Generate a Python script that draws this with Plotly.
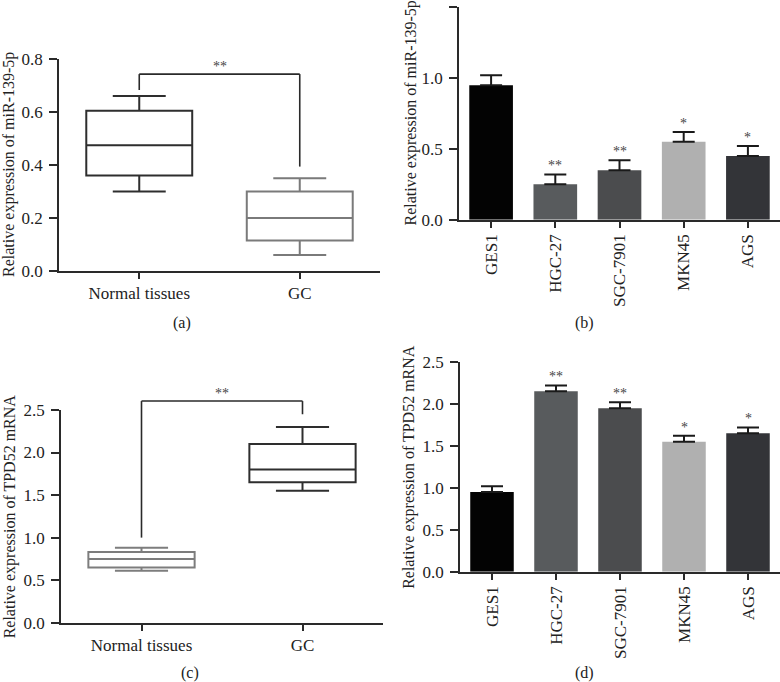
import plotly.graph_objects as go

# ---------------- data ----------------
box_groups = ["Normal tissues", "GC"]
# panel (a): miR-139-5p in tissues
a_lower = [0.30, 0.06]
a_q1 = [0.36, 0.115]
a_median = [0.475, 0.20]
a_q3 = [0.605, 0.30]
a_upper = [0.66, 0.35]
a_bracket = [0.683, 0.743, 0.394]   # left leg bottom, bar height, right leg bottom
a_star = "**"

# panel (c): TPD52 mRNA in tissues
c_lower = [0.61, 1.55]
c_q1 = [0.65, 1.65]
c_median = [0.75, 1.80]
c_q3 = [0.83, 2.10]
c_upper = [0.88, 2.30]
c_bracket = [1.00, 2.605, 2.45]
c_star = "**"

cell_lines = ["GES1", "HGC-27", "SGC-7901", "MKN45", "AGS"]
b_values = [0.95, 0.25, 0.35, 0.55, 0.45]
b_errors = [0.07, 0.07, 0.07, 0.07, 0.07]
b_stars = ["", "**", "**", "*", "*"]

d_values = [0.95, 2.15, 1.95, 1.55, 1.65]
d_errors = [0.07, 0.07, 0.07, 0.07, 0.07]
d_stars = ["", "**", "**", "*", "*"]

bar_colors = ["#030303", "#585b5d", "#4b4c4e", "#b0b0b0", "#333438"]

W, H = 780, 682
FONT = "Liberation Serif"
AX = "#2a2a2a"

def px_dom_x(x0, x1):
    return [x0 / W, x1 / W]

def px_dom_y(top, bottom):
    return [1 - bottom / H, 1 - top / H]

dom = {
    "a": (px_dom_x(59, 380), px_dom_y(59, 271), [0, 0.8]),
    "b": (px_dom_x(459, 780), px_dom_y(7.3, 219.7), [0, 1.5]),
    "c": (px_dom_x(61, 383), px_dom_y(410, 622.7), [0, 2.5]),
    "d": (px_dom_x(460, 780), px_dom_y(362, 571.7), [0, 2.5]),
}

def to_paper(panel, v):
    _, yd, yr = dom[panel]
    return yd[0] + (v - yr[0]) / (yr[1] - yr[0]) * (yd[1] - yd[0])

fig = go.Figure()

box_colors_a = ["#2e2e2e", "#7a7a7a"]
box_colors_c = ["#7d7d7d", "#2e2e2e"]

def add_boxes(xa, ya, lower, q1, med, q3, upper, colors):
    for i, g in enumerate(box_groups):
        fig.add_trace(go.Box(
            x=[g], lowerfence=[lower[i]], q1=[q1[i]], median=[med[i]],
            q3=[q3[i]], upperfence=[upper[i]],
            fillcolor="rgba(0,0,0,0)", line=dict(color=colors[i], width=2),
            width=0.66, whiskerwidth=0.5, boxpoints=False,
            xaxis=xa, yaxis=ya, showlegend=False, hoverinfo="skip"))

add_boxes("x", "y", a_lower, a_q1, a_median, a_q3, a_upper, box_colors_a)
add_boxes("x3", "y3", c_lower, c_q1, c_median, c_q3, c_upper, box_colors_c)

def add_bars(xa, ya, vals, errs):
    fig.add_trace(go.Bar(
        x=cell_lines, y=vals, width=0.68,
        marker=dict(color=bar_colors, line=dict(width=0)),
        error_y=dict(type="data", symmetric=False, array=errs,
                     arrayminus=[0] * len(errs), color="#1a1a1a",
                     thickness=2, width=11),
        xaxis=xa, yaxis=ya, showlegend=False, hoverinfo="skip"))

add_bars("x2", "y2", b_values, b_errors)
add_bars("x4", "y4", d_values, d_errors)

shapes = []
annotations = []

def bracket(panel, xref, br, star):
    y1, y2, y3 = (to_paper(panel, v) for v in br)
    line = dict(color="#2a2a2a", width=1.6)
    shapes.append(dict(type="line", xref=xref, yref="paper", x0=0, x1=0, y0=y1, y1=y2, line=line))
    shapes.append(dict(type="line", xref=xref, yref="paper", x0=0, x1=1, y0=y2, y1=y2, line=line))
    shapes.append(dict(type="line", xref=xref, yref="paper", x0=1, x1=1, y0=y3, y1=y2, line=line))
    annotations.append(dict(text=star, xref=xref, yref="paper", x=0.5, y=y2,
                            yanchor="bottom", yshift=-2, showarrow=False,
                            font=dict(family=FONT, size=14, color="#444")))

bracket("a", "x", a_bracket, a_star)
bracket("c", "x3", c_bracket, c_star)

def stars(xref, yref, vals, errs, st):
    for i, s in enumerate(st):
        if s:
            annotations.append(dict(text=s, xref=xref, yref=yref, x=cell_lines[i],
                                    y=vals[i] + errs[i], yanchor="bottom", yshift=-1,
                                    showarrow=False,
                                    font=dict(family=FONT, size=14, color="#444")))

stars("x2", "y2", b_values, b_errors, b_stars)
stars("x4", "y4", d_values, d_errors, d_stars)

# axis titles
ytitles = [
    ("Relative expression of miR-139-5p", 9, "a"),
    ("Relative expression of miR-139-5p", 410, "b"),
    ("Relative expression of TPD52 mRNA", 10, "c"),
    ("Relative expression of TPD52 mRNA", 409, "d"),
]
for t, xp, p in ytitles:
    yd = dom[p][1]
    annotations.append(dict(text=t, xref="paper", yref="paper", x=xp / W,
                            y=(yd[0] + yd[1]) / 2, textangle=-90, showarrow=False,
                            xanchor="center", yanchor="middle",
                            font=dict(family=FONT, size=16, color="#222")))

for lab, xp, yp in [("(a)", 182, 323), ("(b)", 584, 323), ("(c)", 190, 673), ("(d)", 584, 673)]:
    annotations.append(dict(text=lab, xref="paper", yref="paper", x=xp / W, y=1 - yp / H,
                            showarrow=False, xanchor="center", yanchor="middle",
                            font=dict(family=FONT, size=16, color="#222")))

def xaxis(panel, rotate=False):
    return dict(domain=dom[panel][0], range=[-0.5, 1.5] if not rotate else [-0.5, 4.5],
                type="category", showline=True, linecolor=AX, linewidth=1.6,
                ticks="outside", ticklen=6, tickwidth=1.5, tickcolor=AX,
                showgrid=False, zeroline=False, fixedrange=True,
                tickangle=-90 if rotate else 0,
                tickfont=dict(family=FONT, size=17, color="#222"))

def yaxis(panel, dtick):
    return dict(domain=dom[panel][1], range=dom[panel][2], dtick=dtick,
                tickformat=".1f", showline=True, linecolor=AX, linewidth=1.6,
                ticks="outside", ticklen=8, tickwidth=1.5, tickcolor=AX,
                ticklabelstandoff=3,
                showgrid=False, zeroline=False, fixedrange=True,
                tickfont=dict(family=FONT, size=17, color="#222"))

fig.update_layout(
    width=W, height=H, margin=dict(l=0, r=0, t=0, b=0, autoexpand=False),
    paper_bgcolor="white", plot_bgcolor="white",
    xaxis=dict(xaxis("a"), anchor="y"), yaxis=dict(yaxis("a", 0.2), anchor="x"),
    xaxis2=dict(xaxis("b", True), anchor="y2"), yaxis2=dict(yaxis("b", 0.5), anchor="x2"),
    xaxis3=dict(xaxis("c"), anchor="y3"), yaxis3=dict(yaxis("c", 0.5), anchor="x3"),
    xaxis4=dict(xaxis("d", True), anchor="y4"), yaxis4=dict(yaxis("d", 0.5), anchor="x4"),
    shapes=shapes, annotations=annotations, boxmode="overlay",
)

fig.write_html("out.html",
               config={"displayModeBar": False},
               post_script="document.body.style.margin='0';document.body.style.padding='0';")
